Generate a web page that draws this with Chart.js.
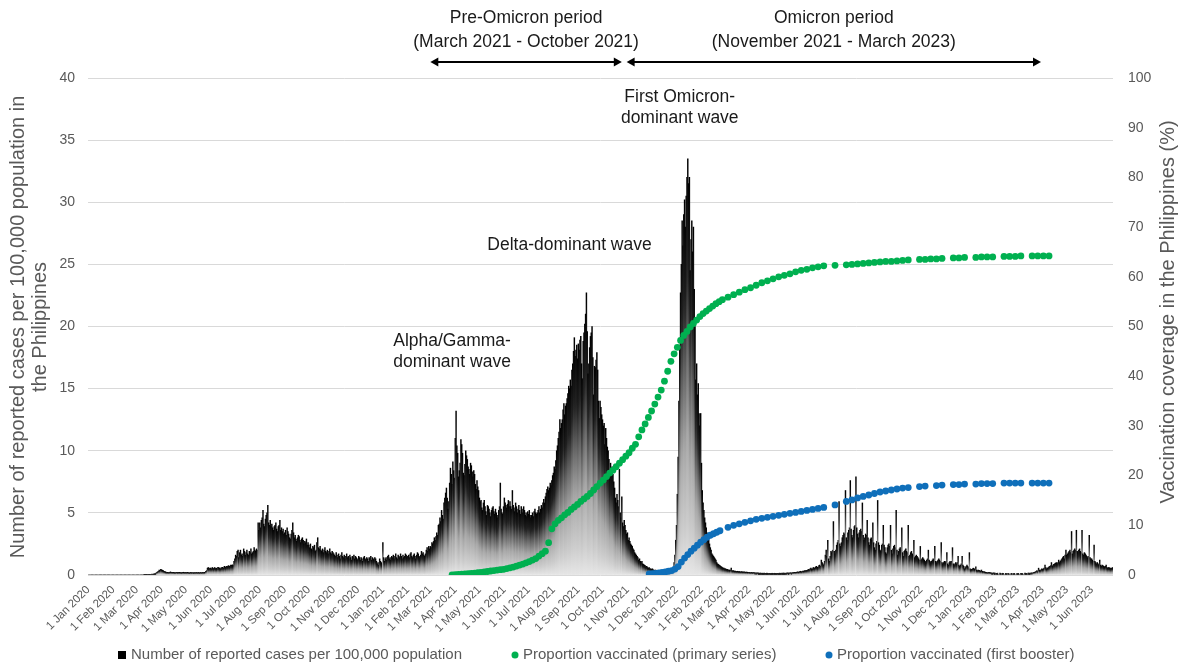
<!DOCTYPE html>
<html>
<head>
<meta charset="utf-8">
<title>COVID-19 cases and vaccination coverage, Philippines</title>
<script src="https://cdn.jsdelivr.net/npm/chart.js@4.4.1/dist/chart.umd.min.js"></script>
<style>
  html, body { margin: 0; padding: 0; background: #ffffff; }
  #wrap { width: 1187px; height: 666px; }
</style>
</head>
<body>
<div id="wrap"><canvas id="c" width="1187" height="666"></canvas></div>
<script>
// ---------------------------------------------------------------------------
// Daily reported cases per 100,000 population, one inner array per month.
// ---------------------------------------------------------------------------
const cases2020 = [
  [0,0,0,0,0,0,0,0,0,0,0,0,0,0,0,0,0,0,0,0,0,0,0,0,0,0,0,0,0,0,0],
  [0,0,0,0,0,0,0,0,0,0,0,0,0,0,0,0,0,0,0,0,0,0,0,0,0,0,0,0,0],
  [0,0,0,0,0,0,0,0,0,0.01,0.01,0.01,0.02,0.01,0.02,0.03,0.02,0.04,0.05,0.07,0.06,0.08,0.1,0.12,0.15,0.2,0.25,0.3,0.4,0.35,0.45],
  [0.42,0.38,0.35,0.3,0.28,0.25,0.2,0.22,0.2,0.19,0.2,0.25,0.2,0.22,0.2,0.21,0.19,0.18,0.2,0.22,0.19,0.2,0.21,0.2,0.19,0.18,0.2,0.22,0.2,0.19],
  [0.2,0.19,0.21,0.2,0.18,0.17,0.2,0.19,0.18,0.2,0.17,0.19,0.18,0.2,0.19,0.18,0.2,0.17,0.19,0.2,0.18,0.2,0.19,0.21,0.2,0.3,0.35,0.55,0.6,0.5,0.55],
  [0.55,0.5,0.6,0.55,0.5,0.6,0.52,0.55,0.5,0.62,0.6,0.55,0.5,0.58,0.6,0.62,0.55,0.7,0.65,0.6,0.7,0.68,0.75,0.72,0.7,0.8,0.78,0.82,0.75,1.1],
  [1.3,1.6,1.5,1.9,2.0,1.4,1.8,2.0,1.6,1.7,1.5,2.1,1.9,1.6,1.8,2.0,1.7,1.6,1.9,1.8,2.1,1.7,1.8,1.9,2.2,2.0,1.9,2.1,2.0,4.2,3.6],
  [4.2,3.8,4.4,4.6,5.2,4.1,3.9,4.5,4.8,5.0,5.6,4.2,4.0,4.4,3.9,4.1,3.8,3.6,3.9,4.0,4.2,3.7,3.5,3.9,4.0,4.4,3.6,3.8,3.5,3.7,3.3],
  [3.4,3.6,3.2,3.8,3.5,3.3,3.0,2.9,3.3,3.6,4.2,3.4,3.0,3.2,2.9,2.7,3.0,3.2,3.1,2.8,2.6,2.9,3.0,2.8,2.5,2.7,2.6,2.9,2.4,2.6],
  [2.4,2.2,2.5,2.1,2.0,2.3,2.2,2.4,1.9,2.0,2.6,3.0,2.2,2.1,2.3,2.0,1.9,2.1,1.8,2.0,2.2,1.9,1.8,2.0,1.7,1.9,2.1,1.8,1.7,1.9,1.8],
  [1.7,1.6,1.5,1.8,1.6,1.4,1.7,1.5,1.3,1.6,1.8,1.5,1.4,1.6,1.3,1.5,1.7,1.4,1.5,1.3,1.6,1.4,1.2,1.5,1.4,1.6,1.3,1.5,1.4,1.2],
  [1.3,1.5,1.4,1.2,1.4,1.3,1.1,1.4,1.5,1.3,1.2,1.4,1.3,1.1,1.4,1.3,1.5,1.2,1.4,1.3,1.2,1.4,1.3,1.1,0.9,1.0,0.8,1.3,1.1,1.0,0.9]
];
const cases2021 = [
  [2.6,1.4,1.1,1.3,1.4,1.2,1.5,1.6,1.3,1.4,1.2,1.5,1.4,1.6,1.3,1.5,1.7,1.4,1.3,1.6,1.5,1.4,1.7,1.5,1.3,1.6,1.4,1.5,1.7,1.6,1.4],
  [1.5,1.6,1.4,1.7,1.8,1.5,1.4,1.6,1.7,1.5,1.3,1.6,1.8,1.7,1.5,1.4,1.6,1.9,1.7,1.8,1.6,1.5,1.7,2.0,2.2,1.9,2.3,2.1],
  [2.3,2.2,2.6,2.5,2.7,3.0,2.8,3.1,3.4,3.2,4.0,4.1,4.6,4.3,5.2,4.8,4.5,5.8,6.2,6.6,7.0,6.2,5.3,5.9,7.4,8.6,8.1,7.3,9.1,8.4,7.8],
  [11.0,13.2,10.4,9.8,7.9,8.4,9.0,10.9,10.5,9.8,8.2,8.0,8.9,10.0,9.6,9.3,8.7,8.5,8.1,9.0,8.8,8.3,7.9,8.4,8.1,7.3,6.9,7.6,7.1,6.8],
  [6.2,5.9,6.0,5.4,5.2,5.8,6.0,5.5,5.1,4.8,5.6,5.5,5.3,5.0,4.7,5.2,5.4,5.5,5.1,4.9,5.3,5.0,4.6,4.8,5.2,5.5,7.4,5.3,5.0,4.9,5.5],
  [6.2,5.8,5.6,5.4,5.7,6.0,5.5,5.9,5.5,5.3,6.8,5.6,5.4,5.1,5.8,5.5,5.0,5.3,5.6,5.2,4.9,5.5,5.3,5.0,5.5,5.2,4.8,5.0,4.7,5.1],
  [4.9,5.2,4.8,4.6,4.8,5.0,4.7,5.1,5.3,5.0,4.9,5.0,5.2,5.5,5.0,5.3,5.6,5.4,5.8,6.1,5.8,6.3,6.6,6.9,7.1,6.8,7.0,7.4,7.2,7.6,8.0],
  [8.2,8.7,8.5,9.2,10.0,10.4,11.0,11.5,12.5,11.8,12.2,12.5,13.3,13.8,12.9,13.6,13.8,14.2,14.6,15.2,15.0,15.7,15.2,16.5,17.0,18.0,19.1,17.6,18.1,18.5,17.4],
  [18.6,18.1,18.9,19.2,17.0,15.8,18.8,19.5,20.2,21.0,22.7,19.6,16.2,17.0,18.3,19.2,19.5,20.0,17.5,14.5,16.8,16.7,17.3,17.9,16.5,14.0,12.6,14.0,13.5,12.9],
  [12.5,12.0,12.2,10.5,11.8,11.0,10.3,10.0,9.3,8.4,9.0,8.6,8.7,8.1,7.5,7.0,6.2,5.8,6.5,6.0,5.5,8.5,5.0,4.6,6.3,4.2,3.9,4.4,4.0,3.6,3.3],
  [3.4,2.8,3.0,2.7,2.5,2.4,2.3,2.1,2.0,1.8,1.7,1.6,1.5,1.4,1.2,1.3,1.1,1.0,1.1,0.9,0.85,0.8,0.75,0.65,0.7,0.6,0.55,0.6,0.5,0.5],
  [0.45,0.5,0.42,0.4,0.38,0.4,0.35,0.38,0.33,0.35,0.32,0.3,0.33,0.3,0.28,0.3,0.27,0.3,0.28,0.25,0.26,0.28,0.3,0.35,0.33,0.38,0.45,0.6,1.0,1.6,2.8]
];
const cases2022 = [
  [4.0,6.5,9.5,14.0,18.5,22.7,25.0,28.5,26.5,29.0,30.2,28.0,30.5,32.0,33.5,31.5,32.0,24.5,27.0,28.5,26.0,28.0,23.0,20.0,15.7,17.0,14.5,15.4,13.0,12.0,13.0],
  [9.0,6.8,5.8,5.2,4.6,4.2,3.8,3.4,3.0,2.8,2.5,2.2,2.0,1.7,1.6,1.5,1.4,1.3,1.2,1.0,0.9,0.85,0.8,0.75,0.7,0.65,0.6,0.55],
  [0.55,0.5,0.5,0.45,0.45,0.4,0.42,0.38,0.4,0.55,0.35,0.33,0.35,0.3,0.32,0.3,0.28,0.3,0.27,0.28,0.26,0.25,0.27,0.25,0.24,0.25,0.23,0.22,0.24,0.22,0.2],
  [0.22,0.2,0.18,0.2,0.19,0.17,0.2,0.18,0.16,0.18,0.15,0.17,0.16,0.14,0.15,0.16,0.14,0.15,0.13,0.15,0.14,0.13,0.15,0.14,0.12,0.13,0.14,0.12,0.13,0.14],
  [0.13,0.12,0.14,0.13,0.12,0.14,0.13,0.12,0.15,0.14,0.13,0.15,0.14,0.16,0.15,0.14,0.16,0.15,0.17,0.16,0.15,0.17,0.18,0.16,0.18,0.2,0.19,0.21,0.2,0.22,0.24],
  [0.25,0.22,0.27,0.3,0.26,0.28,0.32,0.3,0.35,0.33,0.38,0.36,0.4,0.45,0.42,0.5,0.55,0.48,0.5,0.6,0.58,0.55,0.65,0.7,0.62,0.6,0.75,0.8,0.7,1.2],
  [1.0,0.9,0.8,1.1,1.6,2.0,1.5,2.8,1.3,1.1,1.5,1.9,1.8,2.0,4.3,1.9,1.7,2.0,2.4,2.6,2.8,5.9,2.5,2.3,2.6,3.0,3.2,3.4,3.3,6.8,3.0],
  [2.8,3.4,3.6,3.8,7.6,3.7,3.2,3.0,3.6,3.9,4.0,7.9,3.8,3.3,3.0,3.4,3.6,3.7,3.5,5.8,3.2,2.8,3.0,3.3,3.2,4.4,3.0,2.6,2.4,2.9,3.0],
  [2.8,4.2,2.6,2.2,2.0,2.5,2.7,6.0,2.6,2.4,2.0,1.9,2.4,2.5,4.0,2.4,2.2,1.8,1.7,2.2,2.4,2.5,2.3,4.0,2.0,1.7,2.1,2.3,2.4,2.2],
  [5.2,2.0,1.6,1.9,2.1,2.2,2.0,3.8,1.8,1.5,1.9,2.0,2.1,1.9,1.8,4.0,1.5,1.6,1.8,1.9,1.7,1.6,2.8,1.4,1.5,1.6,1.5,1.4,1.3,1.2,2.3],
  [1.2,1.3,1.4,1.3,1.2,1.1,1.0,1.2,1.3,2.0,1.2,1.1,1.0,1.1,1.2,1.3,1.2,2.3,1.1,1.0,1.1,1.2,1.3,1.2,1.1,2.6,1.0,0.9,1.0,1.1],
  [1.0,1.1,1.8,0.9,0.8,1.0,1.1,1.0,1.1,2.2,0.9,0.8,0.9,1.0,0.9,1.0,1.5,0.8,0.7,0.8,0.9,1.5,0.8,0.7,0.5,0.6,0.7,0.8,0.7,0.6,1.8]
];
const cases2023 = [
  [0.5,0.4,0.45,0.5,0.55,0.5,0.45,0.65,0.4,0.35,0.4,0.38,0.35,0.3,0.4,0.3,0.25,0.28,0.25,0.22,0.2,0.2,0.18,0.2,0.2,0.18,0.17,0.16,0.15,0.17,0.16],
  [0.16,0,0.14,0.15,0,0,0.15,0.13,0,0.14,0.13,0,0,0.13,0.12,0,0.13,0.12,0,0,0.13,0.12,0,0.12,0.13,0,0,0.12],
  [0.12,0.13,0,0,0.14,0.13,0.12,0,0,0.15,0.14,0.13,0,0.15,0.16,0.14,0.15,0.17,0.16,0.18,0.2,0.22,0.25,0.3,0.35,0.28,0.55,0.4,0.35,0.42,0.5],
  [0.45,0.5,0.55,0.8,0.6,0.5,0.55,0.6,0.65,0.7,0.75,1.0,0.7,0.8,0.85,0.9,0.95,1.0,0.9,1.0,1.2,1.0,1.1,1.2,1.3,1.4,1.5,1.3,1.6,2.0],
  [1.6,1.7,1.8,1.9,2.0,1.8,3.5,1.7,1.9,2.0,2.1,2.0,3.6,1.9,1.8,2.0,2.1,1.9,1.8,3.6,1.7,1.6,1.8,1.7,1.6,1.5,1.4,1.5,3.2,1.4,1.3],
  [1.3,1.2,1.1,2.4,1.1,1.0,0.9,1.0,0.9,0.8,1.2,0.8,0.7,0.8,0.75,0.7,0.65,0.7,0.8,0.6,0.55,0.6,0.58,0.55,0.5,0.55,0.6]
];

// ---------------------------------------------------------------------------
// Vaccination coverage (%). Days are counted from 1 Jan 2020.
// ---------------------------------------------------------------------------
const primaryDay = [
  452,456,460,464,468,472,476,480,484,488,492,496,500,504,508,512,516,520,524,528,
  532,536,540,544,548,552,556,560,564,568,572,576,580,584,588,592,596,600,604,608,
  612,616,620,624,628,632,636,640,644,648,652,656,660,664,668,672,676,680,684,688,
  692,696,700,704,708,712,716,720,724,728,732,736,740,744,748,752,756,760,764,768,
  772,776,780,784,788,
  795,802,809,816,823,830,837,844,851,858,865,872,879,886,893,900,907,914,928,942,
  949,956,963,970,977,984,991,998,1005,1012,1019,1033,1040,1047,1054,1061,1075,1082,1089,1103,
  1110,1117,1124,1138,1145,1152,1159,1173,1180,1187,1194
];
const primaryPct = [
  0.0,0.05,0.1,0.15,0.2,0.27,0.32,0.38,0.45,0.52,0.6,0.7,0.8,0.9,1.0,1.08,1.15,1.3,1.45,1.6,
  1.8,2.0,2.2,2.45,2.7,3.0,3.3,3.8,4.3,4.8,6.5,9.3,10.3,11.0,11.5,12.1,12.6,13.2,13.7,14.2,
  14.8,15.3,15.8,16.4,17.1,17.8,18.5,19.1,19.8,20.5,21.1,21.8,22.5,23.2,23.9,24.6,25.5,26.3,27.8,29.2,
  30.4,31.7,33.0,34.4,35.8,37.2,39.0,41.0,43.0,44.5,45.8,47.2,48.2,49.0,49.9,50.6,51.3,52.0,52.6,53.1,
  53.6,54.1,54.6,55.0,55.4,
  55.9,56.4,56.9,57.4,57.8,58.3,58.8,59.2,59.6,60.0,60.3,60.6,61.0,61.3,61.5,61.8,62.0,62.2,62.3,62.4,
  62.5,62.6,62.7,62.8,62.9,63.0,63.1,63.1,63.2,63.3,63.4,63.5,63.5,63.6,63.6,63.7,63.8,63.8,63.9,63.9,
  64.0,64.0,64.0,64.1,64.1,64.1,64.2,64.2,64.2,64.2,64.2
];
const boosterDay = [
  697,701,705,709,713,717,721,725,729,733,737,741,745,749,753,757,761,765,769,773,
  777,781,785,
  795,802,809,816,823,830,837,844,851,858,865,872,879,886,893,900,907,914,928,942,
  949,956,963,970,977,984,991,998,1005,1012,1019,1033,1040,1054,1061,1075,1082,1089,1103,1110,
  1117,1124,1138,1145,1152,1159,1173,1180,1187,1194
];
const boosterPct = [
  0.2,0.25,0.3,0.4,0.5,0.6,0.75,0.9,1.2,1.7,2.6,3.4,4.1,4.8,5.4,6.0,6.6,7.1,7.6,8.0,
  8.3,8.6,8.9,
  9.6,10.0,10.3,10.6,10.9,11.2,11.4,11.6,11.8,12.0,12.2,12.4,12.6,12.8,13.0,13.2,13.4,13.6,14.1,14.8,
  15.1,15.5,15.8,16.1,16.4,16.7,16.9,17.1,17.3,17.5,17.6,17.8,17.9,18.0,18.1,18.2,18.2,18.3,18.3,18.4,
  18.4,18.4,18.5,18.5,18.5,18.5,18.5,18.5,18.5,18.5
];

// Month ticks along the date axis
const tickLabels = [
  '1 Jan 2020','1 Feb 2020','1 Mar 2020','1 Apr 2020','1 May 2020','1 Jun 2020','1 Jul 2020','1 Aug 2020',
  '1 Sep 2020','1 Oct 2020','1 Nov 2020','1 Dec 2020','1 Jan 2021','1 Feb 2021','1 Mar 2021','1 Apr 2021',
  '1 May 2021','1 Jun 2021','1 Jul 2021','1 Aug 2021','1 Sep 2021','1 Oct 2021','1 Nov 2021','1 Dec 2021',
  '1 Jan 2022','1 Feb 2022','1 Mar 2022','1 Apr 2022','1 May 2022','1 Jun 2022','1 Jul 2022','1 Aug 2022',
  '1 Sep 2022','1 Oct 2022','1 Nov 2022','1 Dec 2022','1 Jan 2023','1 Feb 2023','1 Mar 2023','1 Apr 2023',
  '1 May 2023','1 Jun 2023'
];

const seriesLabels = [
  'Number of reported cases per 100,000 population',
  'Proportion vaccinated (primary series)',
  'Proportion vaccinated (first booster)'
];
const leftTitle = ['Number of reported cases per 100,000 population in', 'the Philippines'];
const rightTitle = 'Vaccination coverage in the Philippines (%)';

// ---------------------------------------------------------------------------
const FONT = '"Liberation Sans", Arial, Helvetica, sans-serif';
const GREY_TEXT = '#595959';
const INK = '#1a1a1a';
const GREEN = '#00b050';
const BLUE = '#0f6fba';
const MONTHS = ['Jan','Feb','Mar','Apr','May','Jun','Jul','Aug','Sep','Oct','Nov','Dec'];

const DAY0 = Date.UTC(2020, 0, 1);
const dayOf = (y, m, d) => Math.round((Date.UTC(y, m, d) - DAY0) / 86400000);

const casePoints = [];
[[2020, cases2020], [2021, cases2021], [2022, cases2022], [2023, cases2023]].forEach(([yr, months]) => {
  months.forEach((vals, m) => {
    const start = dayOf(yr, m, 1);
    vals.forEach((v, i) => casePoints.push({ x: start + i, y: v }));
  });
});
const primaryPoints = primaryDay.map((d, i) => ({ x: d, y: primaryPct[i] }));
const boosterPoints = boosterDay.map((d, i) => ({ x: d, y: boosterPct[i] }));
const tickDays = tickLabels.map(s => {
  const [d, mon, yr] = s.split(' ');
  return dayOf(+yr, MONTHS.indexOf(mon), +d);
});

// Each bar shades from pale grey at its base to black at its top
function barFill(ctx) {
  const chart = ctx.chart;
  const y = chart.scales && chart.scales.y;
  if (!chart.chartArea || !y || !ctx.parsed) return '#111';
  const base = y.getPixelForValue(0);
  const top = y.getPixelForValue(ctx.parsed.y);
  if (base - top < 2) return '#1a1a1a';
  const g = chart.ctx.createLinearGradient(0, base, 0, top);
  g.addColorStop(0, '#e6e6e6');
  g.addColorStop(0.12, '#cdcdcd');
  g.addColorStop(0.35, '#a6a6a6');
  g.addColorStop(0.55, '#676767');
  g.addColorStop(0.75, '#1f1f1f');
  g.addColorStop(1, '#000000');
  return g;
}

// Titles, period arrows, wave labels and legend
const overlay = {
  id: 'overlay',
  afterDraw(chart) {
    const { ctx, scales: { x } } = chart;
    const px = d => x.getPixelForValue(d);
    ctx.save();
    ctx.textAlign = 'center';
    ctx.textBaseline = 'middle';

    // axis titles
    ctx.fillStyle = GREY_TEXT;
    ctx.font = `20px ${FONT}`;
    ctx.save();
    ctx.translate(18, 327);
    ctx.rotate(-Math.PI / 2);
    ctx.fillText(leftTitle[0], 0, 0);
    ctx.fillText(leftTitle[1], 0, 22);
    ctx.restore();
    ctx.save();
    ctx.translate(1168, 312);
    ctx.rotate(-Math.PI / 2);
    ctx.fillText(rightTitle, 0, 0);
    ctx.restore();

    // period headings and arrows
    ctx.fillStyle = INK;
    ctx.font = `17.5px ${FONT}`;
    const preA = px(dayOf(2021, 2, 1)), preB = px(dayOf(2021, 9, 25));
    const omiA = px(dayOf(2021, 9, 31)), omiB = px(dayOf(2023, 2, 30));
    ctx.fillText('Pre-Omicron period', (preA + preB) / 2, 18);
    ctx.fillText('(March 2021 - October 2021)', (preA + preB) / 2, 42);
    ctx.fillText('Omicron period', (omiA + omiB) / 2, 18);
    ctx.fillText('(November 2021 - March 2023)', (omiA + omiB) / 2, 42);
    const arrow = (a, b, y) => {
      const h = 8, w = 4.5;
      ctx.strokeStyle = '#000';
      ctx.lineWidth = 2;
      ctx.beginPath();
      ctx.moveTo(a + h - 1, y);
      ctx.lineTo(b - h + 1, y);
      ctx.stroke();
      ctx.fillStyle = '#000';
      ctx.beginPath();
      ctx.moveTo(a, y); ctx.lineTo(a + h, y - w); ctx.lineTo(a + h, y + w); ctx.closePath();
      ctx.fill();
      ctx.beginPath();
      ctx.moveTo(b, y); ctx.lineTo(b - h, y - w); ctx.lineTo(b - h, y + w); ctx.closePath();
      ctx.fill();
    };
    arrow(preA, preB, 62);
    arrow(omiA, omiB, 62);

    // wave labels
    ctx.fillStyle = INK;
    const omiX = px(dayOf(2022, 0, 5));
    ctx.fillText('First Omicron-', omiX, 97);
    ctx.fillText('dominant wave', omiX, 118);
    ctx.fillText('Delta-dominant wave', px(dayOf(2021, 7, 21)), 245);
    const alphaX = px(dayOf(2021, 2, 28));
    ctx.fillText('Alpha/Gamma-', alphaX, 341);
    ctx.fillText('dominant wave', alphaX, 362);

    // legend
    const ly = 655;
    ctx.textAlign = 'left';
    ctx.font = `15px ${FONT}`;
    ctx.fillStyle = '#000';
    ctx.fillRect(118, ly - 4, 8, 8);
    ctx.fillStyle = GREY_TEXT;
    ctx.fillText(seriesLabels[0], 131, ly);
    ctx.fillStyle = GREEN;
    ctx.beginPath(); ctx.arc(515, ly, 3.5, 0, Math.PI * 2); ctx.fill();
    ctx.fillStyle = GREY_TEXT;
    ctx.fillText(seriesLabels[1], 523, ly);
    ctx.fillStyle = BLUE;
    ctx.beginPath(); ctx.arc(829, ly, 3.5, 0, Math.PI * 2); ctx.fill();
    ctx.fillStyle = GREY_TEXT;
    ctx.fillText(seriesLabels[2], 837, ly);
    ctx.restore();
  }
};

new Chart(document.getElementById('c'), {
  data: {
    datasets: [
      {
        type: 'scatter', label: seriesLabels[1], data: primaryPoints, yAxisID: 'y1',
        backgroundColor: GREEN, pointRadius: 3.4, pointBorderWidth: 0, order: 1
      },
      {
        type: 'scatter', label: seriesLabels[2], data: boosterPoints, yAxisID: 'y1',
        backgroundColor: BLUE, pointRadius: 3.4, pointBorderWidth: 0, order: 1
      },
      {
        type: 'bar', label: seriesLabels[0], data: casePoints, yAxisID: 'y',
        backgroundColor: barFill, borderWidth: 0, barPercentage: 1, categoryPercentage: 1,
        grouped: false, order: 2
      }
    ]
  },
  options: {
    responsive: false,
    animation: false,
    devicePixelRatio: 1,
    layout: { padding: { top: 78, bottom: 31, left: 0, right: 0 } },
    plugins: { legend: { display: false }, tooltip: { enabled: false } },
    scales: {
      x: {
        type: 'linear', min: -0.5, max: 1273.5, offset: false,
        grid: { display: false, drawTicks: false, offset: false },
        border: { display: false },
        afterBuildTicks: s => { s.ticks = tickDays.map(v => ({ value: v })); },
        afterFit: s => { s.height = 60; },
        ticks: {
          autoSkip: false, maxRotation: 45, minRotation: 45, padding: 8,
          color: GREY_TEXT, font: { family: FONT, size: 11.5 },
          callback: (v, i) => tickLabels[i]
        }
      },
      y: {
        position: 'left', min: 0, max: 40,
        grid: { color: '#d9d9d9', lineWidth: 1, drawTicks: false },
        border: { display: false },
        afterFit: s => { s.width = 88; },
        ticks: { stepSize: 5, padding: 13, color: GREY_TEXT, font: { family: FONT, size: 14 } }
      },
      y1: {
        position: 'right', min: 0, max: 100,
        grid: { display: false, drawTicks: false },
        border: { display: false },
        afterFit: s => { s.width = 74; },
        ticks: { stepSize: 10, padding: 15, color: GREY_TEXT, font: { family: FONT, size: 14 } }
      }
    }
  },
  plugins: [overlay]
});
</script>
</body>
</html>
